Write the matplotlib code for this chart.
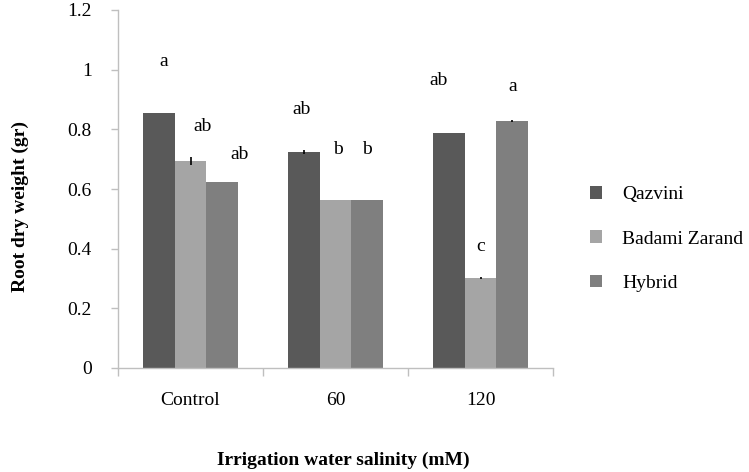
import matplotlib
matplotlib.use("Agg")
import matplotlib.pyplot as plt
import numpy as np

groups = ["Control", "60", "120"]
series = ["Qazvini", "Badami Zarand", "Hybrid"]
qazvini = [0.855, 0.724, 0.788]
badami = [0.694, 0.563, 0.302]
hybrid = [0.623, 0.563, 0.828]
err_q = [0.0, 0.006, 0.0]
err_b = [0.012, 0.0, 0.003]
err_h = [0.0, 0.0, 0.003]
letters_q = ["a", "ab", "ab"]
letters_b = ["ab", "b", "c"]
letters_h = ["ab", "b", "a"]
letter_y_q = [1.026, 0.865, 0.965]
letter_y_b = [0.808, 0.731, 0.406]
letter_y_h = [0.714, 0.731, 0.942]

# layout / style
colors = ["#595959", "#a5a5a5", "#7f7f7f"]
letter_dx = [[0.034, -0.014, -0.069], [0.08, 0.02, 0.0], [0.12, 0.0, 0.0]]

plt.rcParams['font.family'] = ['Liberation Serif', 'DejaVu Serif']
FS = 14

fig = plt.figure(figsize=(7.49, 4.72), dpi=100)
ax = fig.add_axes([118 / 749, 1 - 368 / 472, 435 / 749, 358 / 472])

x = np.arange(len(groups))
w = 0.22
data = [qazvini, badami, hybrid]
errs = [err_q, err_b, err_h]
letters = [letters_q, letters_b, letters_h]
ly = [letter_y_q, letter_y_b, letter_y_h]
for i, (vals, e, c, name) in enumerate(zip(data, errs, colors, series)):
    pos = x + (i - 1) * w
    ax.bar(pos, vals, width=w, color=c, label=name, zorder=2)
    ax.errorbar(pos, vals, yerr=e, fmt="none", ecolor="black", elinewidth=1.2, capsize=0, zorder=3)
    for px, dx, t, yy in zip(pos, letter_dx[i], letters[i], ly[i]):
        ax.text(px + dx, yy, t, ha="center", va="center", fontsize=FS)

ax.set_xlim(-0.5, 2.5)
ax.set_ylim(0, 1.2)
ax.set_yticks([0, 0.2, 0.4, 0.6, 0.8, 1.0, 1.2])
ax.set_yticklabels(["0", "0.2", "0.4", "0.6", "0.8", "1", "1.2"])
ax.set_xticks(x)
ax.set_xticklabels(groups)
ax.set_xticks([-0.5, 0.5, 1.5, 2.5], minor=True)
ax.tick_params(axis="x", which="major", length=0, pad=17, labelsize=FS)
ax.tick_params(axis="x", which="minor", length=6, color="#bfbfbf", width=1)
ax.tick_params(axis="y", length=5, color="#bfbfbf", width=1, labelsize=FS, pad=14)
for s in ["top", "right"]:
    ax.spines[s].set_visible(False)
for s in ["left", "bottom"]:
    ax.spines[s].set_color("#bfbfbf")
    ax.spines[s].set_linewidth(1)

fig.text(20 / 749, 1 - 206 / 472, "Root dry weight (gr)", rotation=90, ha="center", va="center",
         fontsize=FS, fontweight="bold")
fig.text(343 / 749, 1 - 460 / 472, "Irrigation water salinity (mM)", ha="center", va="center",
         fontsize=FS, fontweight="bold")

ax.legend(loc="center left", bbox_to_anchor=(590 / 749, 1 - 239 / 472), bbox_transform=fig.transFigure,
          frameon=False, fontsize=FS, handlelength=0.62, handleheight=0.62,
          labelspacing=1.4, handletextpad=1.05, borderpad=0, borderaxespad=0)

fig.savefig("out.png", dpi=100)
